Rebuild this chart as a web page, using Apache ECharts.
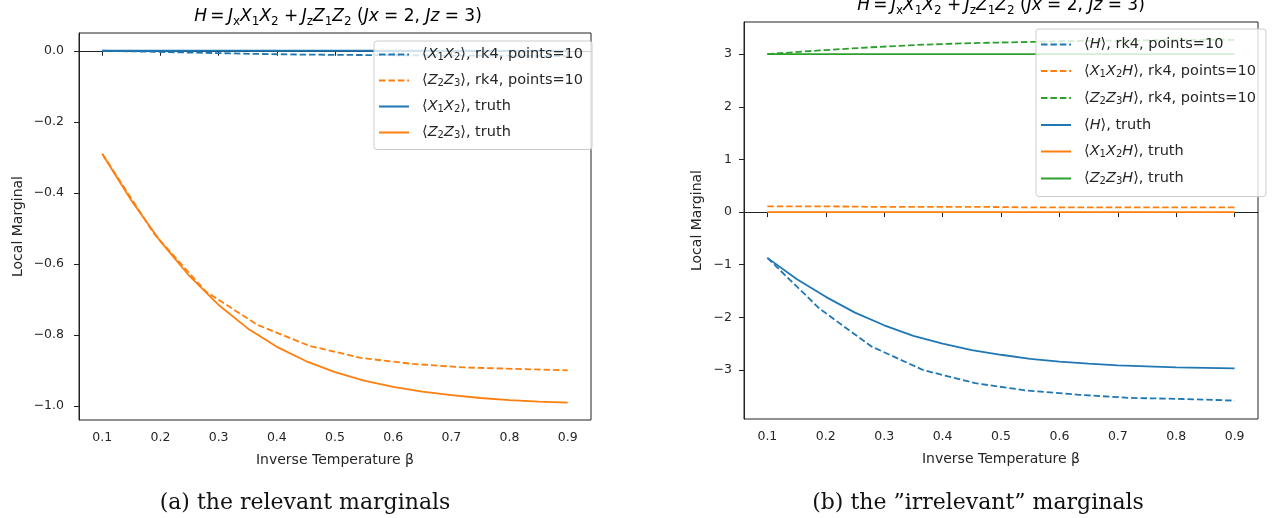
<!DOCTYPE html>
<html>
<head>
<meta charset="utf-8">
<title>marginals</title>
<script src="https://cdn.jsdelivr.net/npm/echarts@6/dist/echarts.min.js"></script>
<style>
  html, body { margin: 0; padding: 0; background: #fff; }
  #chart { width: 1276px; height: 518px; }
</style>
</head>
<body>
<div id="chart"></div>
<script>
// inverse temperature samples
const betaRk4 = [0.1, 0.1889, 0.2778, 0.3667, 0.4556, 0.5444, 0.6333, 0.7222, 0.8111, 0.9]
const betaTruth = [0.10, 0.15, 0.20, 0.25, 0.30, 0.35, 0.40, 0.45, 0.50, 0.55, 0.60, 0.65, 0.70, 0.75, 0.80, 0.85, 0.90]

// (a) relevant marginals
const x1x2Rk4 = [0, -0.003, -0.006, -0.009, -0.011, -0.012, -0.013, -0.014, -0.014, -0.015]
const z2z3Rk4 = [-0.29, -0.515, -0.678, -0.772, -0.831, -0.865, -0.882, -0.892, -0.896, -0.900]
const x1x2Truth = [0, 0, 0, 0, 0, 0, 0, 0, 0, 0, 0, 0, 0, 0, 0, 0, 0]
const z2z3Truth = [-0.291, -0.422, -0.537, -0.635, -0.716, -0.782, -0.834, -0.874, -0.905, -0.929, -0.947, -0.960, -0.970, -0.978, -0.984, -0.988, -0.991]

// (b) "irrelevant" marginals
const hRk4 = [-0.87, -1.83, -2.55, -3.00, -3.25, -3.39, -3.47, -3.53, -3.55, -3.58]
const x1x2hRk4 = [0.11, 0.11, 0.10, 0.10, 0.10, 0.09, 0.09, 0.09, 0.09, 0.09]
const z2z3hRk4 = [3.00, 3.07, 3.13, 3.18, 3.21, 3.23, 3.25, 3.26, 3.27, 3.27]
const hTruth = [-0.87, -1.27, -1.61, -1.91, -2.15, -2.35, -2.50, -2.62, -2.71, -2.79, -2.84, -2.88, -2.91, -2.93, -2.95, -2.96, -2.97]
const x1x2hTruth = [0, 0, 0, 0, 0, 0, 0, 0, 0, 0, 0, 0, 0, 0, 0, 0, 0]
const z2z3hTruth = [3, 3, 3, 3, 3, 3, 3, 3, 3, 3, 3, 3, 3, 3, 3, 3, 3]

// tick labels
const xTicks = [0.1, 0.2, 0.3, 0.4, 0.5, 0.6, 0.7, 0.8, 0.9]
const yTicksA = [-1.0, -0.8, -0.6, -0.4, -0.2, 0.0]
const yTicksB = [-3, -2, -1, 0, 1, 2, 3]

const BLUE = '#1f77b4', ORANGE = '#ff7f0e', GREEN = '#2ca02c'
const TXT = '#262626'
const FONT = '"DejaVu Sans", sans-serif'

// legend labels as rich text (italic letters, lowered subscripts)
const legendLabels = {
  aX: '{t|⟨}{i|X}{s|1}{i|X}{s|2}{t|⟩, rk4, points=10}',
  aZ: '{t|⟨}{i|Z}{s|2}{i|Z}{s|3}{t|⟩, rk4, points=10}',
  aXt: '{t|⟨}{i|X}{s|1}{i|X}{s|2}{t|⟩, truth}',
  aZt: '{t|⟨}{i|Z}{s|2}{i|Z}{s|3}{t|⟩, truth}',
  bH: '{t|⟨}{i|H}{t|⟩, rk4, points=10}',
  bX: '{t|⟨}{i|X}{s|1}{i|X}{s|2}{i|H}{t|⟩, rk4, points=10}',
  bZ: '{t|⟨}{i|Z}{s|2}{i|Z}{s|3}{i|H}{t|⟩, rk4, points=10}',
  bHt: '{t|⟨}{i|H}{t|⟩, truth}',
  bXt: '{t|⟨}{i|X}{s|1}{i|X}{s|2}{i|H}{t|⟩, truth}',
  bZt: '{t|⟨}{i|Z}{s|2}{i|Z}{s|3}{i|H}{t|⟩, truth}'
}

function richStyles(size, lh) {
  const sub = Math.round(size * 0.7)
  return {
    t: { fontSize: size, fontFamily: FONT, color: TXT, lineHeight: lh },
    i: { fontSize: size, fontFamily: FONT, fontStyle: 'italic', color: TXT, lineHeight: lh },
    s: { fontSize: sub, fontFamily: FONT, color: TXT, lineHeight: sub + 1, verticalAlign: 'bottom' }
  }
}

const titleText = '{i|H}{t|\u2009=\u2009}{i|J}{s|x}{i|X}{s|1}{i|X}{s|2}{t| +\u2009}{i|J}{s|z}{i|Z}{s|1}{i|Z}{s|2}{t| (}{i|Jx}{t| = 2, }{i|Jz}{t| = 3)}'

function pairs(xs, ys) {
  return xs.map((x, i) => [x, ys[i]])
}

function fmtA(v) {
  return v.toFixed(1).replace('-', '\u2212')
}
function fmtB(v) {
  return String(v).replace('-', '\u2212')
}

function xAxisFor(gridIndex) {
  return {
    type: 'value', gridIndex, min: 0.06, max: 0.94,
    name: 'Inverse Temperature β', nameLocation: 'middle', nameGap: 33,
    nameTextStyle: { fontSize: 14, fontFamily: FONT, color: TXT },
    axisLine: { show: true, lineStyle: { color: '#222', width: 1 } },
    axisTick: { show: true, length: 5, lineStyle: { color: '#222' }, customValues: xTicks },
    axisLabel: { fontSize: 12.5, fontFamily: FONT, color: TXT, margin: 11, customValues: xTicks, formatter: v => v.toFixed(1) },
    splitLine: { show: false }
  }
}

function yAxisFor(gridIndex, min, max, ticks, fmt, gap, margin) {
  return {
    type: 'value', gridIndex, min, max,
    name: 'Local Marginal', nameLocation: 'middle', nameGap: gap,
    nameTextStyle: { fontSize: 14, fontFamily: FONT, color: TXT },
    axisLine: { show: true, lineStyle: { color: '#222', width: 1 } },
    axisTick: { show: true, length: 5, lineStyle: { color: '#222' }, customValues: ticks },
    axisLabel: { fontSize: 12.5, fontFamily: FONT, color: TXT, margin, customValues: ticks, formatter: fmt },
    splitLine: { show: false }
  }
}

function lineSeries(name, idx, xs, ys, color, dashed) {
  return {
    name, type: 'line', xAxisIndex: idx, yAxisIndex: idx,
    data: pairs(xs, ys), symbol: 'none', smooth: false,
    lineStyle: { color, width: 1.8, type: dashed ? [6.5, 2.9] : 'solid' },
    itemStyle: { color },
    animation: false
  }
}

function legendFor(names, left, top, gap, pad) {
  return {
    data: names, orient: 'vertical', left, top,
    itemWidth: 30, itemHeight: 14, itemGap: gap,
    padding: pad,
    backgroundColor: 'rgba(255,255,255,0.8)', borderColor: '#cccccc', borderWidth: 1, borderRadius: 3,
    itemStyle: { opacity: 0 },
    formatter: n => legendLabels[n],
    textStyle: { padding: [0, 0, 0, 8], rich: richStyles(14.5, 16) }
  }
}

const chart = echarts.init(document.getElementById('chart'))

chart.setOption({
  backgroundColor: '#fff',
  animation: false,
  grid: [
    { left: 79, right: 685, top: 33, bottom: 98, show: true, borderColor: '#222', borderWidth: 1 },
    { left: 744, right: 18, top: 22, bottom: 99, show: true, borderColor: '#222', borderWidth: 1 }
  ],
  xAxis: [xAxisFor(0), xAxisFor(1)],
  yAxis: [
    yAxisFor(0, -1.04, 0.05, yTicksA, fmtA, 54, 15),
    yAxisFor(1, -3.93, 3.61, yTicksB, fmtB, 40, 12)
  ],
  legend: [
    legendFor(['aX', 'aZ', 'aXt', 'aZt'], 374, 41, 10.5, [6, 9, 9, 4]),
    legendFor(['bH', 'bX', 'bZ', 'bHt', 'bXt', 'bZt'], 1036, 29, 11.5, [8, 10, 10, 4])
  ],
  series: [
    lineSeries('aX', 0, betaRk4, x1x2Rk4, BLUE, true),
    lineSeries('aZ', 0, betaRk4, z2z3Rk4, ORANGE, true),
    lineSeries('aXt', 0, betaTruth, x1x2Truth, BLUE, false),
    lineSeries('aZt', 0, betaTruth, z2z3Truth, ORANGE, false),
    lineSeries('bH', 1, betaRk4, hRk4, BLUE, true),
    lineSeries('bX', 1, betaRk4, x1x2hRk4, ORANGE, true),
    lineSeries('bZ', 1, betaRk4, z2z3hRk4, GREEN, true),
    lineSeries('bHt', 1, betaTruth, hTruth, BLUE, false),
    lineSeries('bXt', 1, betaTruth, x1x2hTruth, ORANGE, false),
    lineSeries('bZt', 1, betaTruth, z2z3hTruth, GREEN, false)
  ],
  graphic: [
    { type: 'text', x: 338, y: 17, style: { text: titleText, align: 'center', verticalAlign: 'middle', rich: richStyles(17, 21) } },
    { type: 'text', x: 1001, y: 6, style: { text: titleText, align: 'center', verticalAlign: 'middle', rich: richStyles(17, 21) } },
    { type: 'text', x: 305, y: 503, style: { text: '(a) the relevant marginals', align: 'center', verticalAlign: 'middle', font: '22px "DejaVu Serif", serif', fill: '#111' } },
    { type: 'text', x: 978, y: 503, style: { text: '(b) the \u201Dirrelevant\u201D marginals', align: 'center', verticalAlign: 'middle', font: '22px "DejaVu Serif", serif', fill: '#111' } }
  ]
})
</script>
</body>
</html>
